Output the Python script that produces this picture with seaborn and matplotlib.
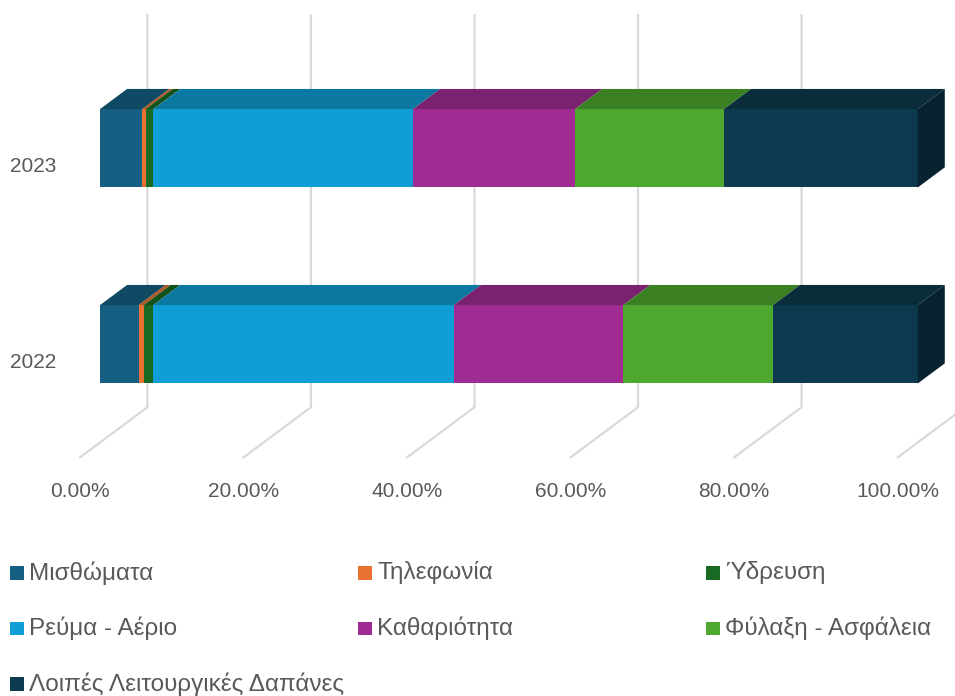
import numpy as np
import pandas as pd
import seaborn as sns
import matplotlib
matplotlib.use('Agg')
import matplotlib.pyplot as plt
from matplotlib.patches import Polygon, Rectangle
from matplotlib.colors import to_rgb

# data (shares of operating costs, %)
years = ['2023', '2022']
cats = ['Μισθώματα', 'Τηλεφωνία', 'Ύδρευση', 'Ρεύμα - Αέριο',
        'Καθαριότητα', 'Φύλαξη - Ασφάλεια', 'Λοιπές Λειτουργικές Δαπάνες']
v2023 = [5.17, 0.42, 0.93, 31.76, 19.83, 18.20, 23.69]
v2022 = [4.73, 0.61, 1.17, 36.77, 20.71, 18.31, 17.70]
ticks = [0, 20, 40, 60, 80, 100]
colors = ['#156082', '#E97132', '#196B24', '#0F9ED5', '#A02B93', '#4EA72E', '#0D3A4E']

TXT = '#595959'
GRID = '#D9D9D9'

sns.set_style('white')
plt.rcParams['font.family'] = ['Liberation Sans', 'DejaVu Sans']

df = pd.DataFrame({
    'year': np.repeat(years, len(cats)),
    'cat': cats * len(years),
    'value': v2023 + v2022,
})
df['cum'] = df.groupby('year')['value'].cumsum()
df['left'] = df['cum'] - df['value']

fig = plt.figure(figsize=(9.55, 6.96), dpi=100)
ax = fig.add_axes([0, 0, 1, 1])

# fake 3d: depth vector for the whole floor, bar sits from depth .3 to .7
DX, DY = 8.28, -0.257
D0, D1 = 0.3, 0.7
BW = 0.4
FLOOR_Y = 1.578
WALL_TOP = -0.68

# back wall + floor gridlines
for t in ticks:
    xb = t + D1 * DX
    xf = t - D0 * DX
    ax.plot([xb, xb, xf], [WALL_TOP, FLOOR_Y + DY, FLOOR_Y], color=GRID, lw=1.6, zorder=0,
            solid_joinstyle='miter')
    ax.text(xf, FLOOR_Y + 0.175, '%.2f%%' % t, ha='center', va='center', fontsize=15, color=TXT)

# front faces, stacked by drawing cumulative bars back to front
for c, col in reversed(list(zip(cats, colors))):
    sub = df[df['cat'] == c]
    sns.barplot(data=sub, x='cum', y='year', order=years, color=col, saturation=1,
                width=BW, linewidth=0, ax=ax, zorder=2)

def shade(col, f):
    return tuple(np.array(to_rgb(col)) * f)

# top faces and right side
dx, dy = (D1 - D0) * DX, (D1 - D0) * DY
for j, yr in enumerate(years):
    yt, yb = j - BW / 2, j + BW / 2
    sub = df[df['year'] == yr]
    for (_, r), col in zip(sub.iterrows(), colors):
        l, rr = r['left'], r['cum']
        ax.add_patch(Polygon([(l, yt), (rr, yt), (rr + dx, yt + dy), (l + dx, yt + dy)],
                             closed=True, fc=shade(col, 0.76), ec='none', zorder=3))
    end = sub['cum'].iloc[-1]
    ax.add_patch(Polygon([(end, yt), (end + dx, yt + dy), (end + dx, yb + dy), (end, yb)],
                         closed=True, fc=shade(colors[-1], 0.6), ec='none', zorder=3))
    ax.text(-11.0, j + D0 * -DY + 0.015, yr, ha='left', va='center', fontsize=15, color=TXT)

ax.set_xlim(-100 / 8.177, 855 / 8.177)
ax.set_ylim((696 - 148.3) / 196, -148.3 / 196)
ax.axis('off')

# legend, 3 columns laid out row by row
W, H = 955, 696
for i, (c, col) in enumerate(zip(cats, colors)):
    row, cc = divmod(i, 3)
    x0 = 10 + cc * 348
    y0 = 573 + row * 55.5
    fig.patches.append(Rectangle((x0 / W, 1 - (y0 + 6.5) / H), 13.5 / W, 13.5 / H,
                                 transform=fig.transFigure, fc=col, ec='none'))
    fig.text((x0 + 19) / W, 1 - y0 / H, c, ha='left', va='center', fontsize=17.5, color=TXT)

fig.savefig('out.png', dpi=100)
